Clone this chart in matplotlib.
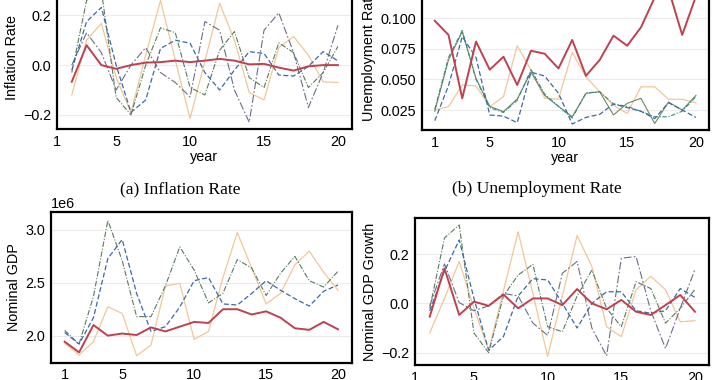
import matplotlib
matplotlib.use('Agg')
from matplotlib import pyplot as plt
from matplotlib.ticker import FixedLocator

# ── data ──────────────────────────────────────────────────────────────────────
years_full = list(range(1, 21))
years_growth = list(range(2, 21))

infl_red = [-0.067, 0.08, 0.0, -0.015, 0.0, 0.01, 0.012, 0.018, 0.012, 0.018,
            0.025, 0.018, 0.003, 0.005, -0.01, -0.022, -0.005, 0.0, 0.0]
infl_tan = [-0.12, 0.10, 0.168, -0.05, -0.19, 0.04, 0.26, 0.02, -0.215, 0.016,
            0.248, 0.1, -0.11, -0.14, 0.07, 0.115, 0.04, -0.067, -0.07]
infl_blue = [-0.02, 0.175, 0.232, 0.0, -0.19, -0.14, 0.067, 0.1, 0.088, -0.03,
             -0.1, -0.02, 0.054, 0.047, -0.04, -0.044, -0.005, 0.054, 0.017]
infl_olive = [-0.03, 0.26, 0.3, -0.13, -0.2, 0.0, 0.15, 0.13, -0.09, -0.12,
              0.06, 0.135, -0.05, -0.09, 0.09, 0.05, -0.09, -0.03, 0.075]
infl_grey = [0.0, 0.13, 0.05, -0.1, 0.0, 0.07, -0.03, -0.07, -0.128, 0.175,
             0.14, -0.1, -0.23, 0.14, 0.21, 0.05, -0.17, -0.03, 0.16]

unemp_red = [0.098, 0.0864, 0.0346, 0.081, 0.058, 0.0686, 0.0455, 0.0735, 0.071, 0.059,
             0.0823, 0.053, 0.066, 0.0858, 0.0776, 0.0926, 0.117, 0.124, 0.0864, 0.118]
unemp_tan = [0.025, 0.0278, 0.0455, 0.0447, 0.0278, 0.036, 0.0776, 0.0577, 0.0346, 0.0338,
             0.0722, 0.052, 0.04, 0.029, 0.0223, 0.044, 0.044, 0.0338, 0.0338, 0.031]
unemp_olive = [0.024, 0.066, 0.089, 0.051, 0.028, 0.0237, 0.034, 0.056, 0.037, 0.028,
               0.0196, 0.0386, 0.04, 0.021, 0.0305, 0.0346, 0.014, 0.0316, 0.025, 0.037]
unemp_blue = [0.0163, 0.045, 0.085, 0.068, 0.021, 0.02, 0.0147, 0.056, 0.0528, 0.0387,
              0.0136, 0.019, 0.0215, 0.03, 0.027, 0.024, 0.018, 0.031, 0.025, 0.019]
unemp_teal = [0.0256, 0.068, 0.09, 0.05, 0.027, 0.023, 0.033, 0.058, 0.038, 0.028,
              0.0185, 0.039, 0.04, 0.03, 0.028, 0.024, 0.0195, 0.0195, 0.024, 0.036]

gdp_red = [1.943, 1.842, 2.10, 2.0, 2.02, 2.006, 2.078, 2.04, 2.085, 2.13,
           2.12, 2.25, 2.25, 2.2, 2.23, 2.17, 2.07, 2.055, 2.13, 2.06]
gdp_tan = [1.927, 1.817, 1.943, 2.274, 2.21, 1.81, 1.91, 2.47, 2.495, 1.965,
           2.04, 2.55, 2.975, 2.64, 2.30, 2.40, 2.67, 2.80, 2.6, 2.43]
gdp_green = [2.05, 1.92, 2.37, 3.09, 2.71, 2.18, 2.18, 2.47, 2.84, 2.62,
             2.31, 2.40, 2.72, 2.64, 2.38, 2.59, 2.75, 2.52, 2.46, 2.61]
gdp_blue = [2.03, 1.92, 2.17, 2.73, 2.91, 2.40, 2.04, 2.085, 2.27, 2.52,
            2.55, 2.30, 2.29, 2.40, 2.52, 2.43, 2.35, 2.28, 2.42, 2.48]

growth_red = [-0.054, 0.142, -0.047, 0.007, -0.01, 0.036, -0.02, 0.02, 0.02, -0.007,
              0.058, 0.0, -0.024, 0.014, -0.034, -0.047, -0.007, 0.034, -0.034]
growth_tan = [-0.12, 0.02, 0.17, -0.02, -0.19, 0.05, 0.29, 0.04, -0.215, 0.03,
              0.275, 0.15, -0.095, -0.135, 0.055, 0.11, 0.055, -0.075, -0.07]
growth_blue = [-0.03, 0.13, 0.257, 0.02, -0.19, -0.135, 0.03, 0.1, 0.095, 0.0,
               -0.1, 0.0, 0.047, 0.047, -0.03, -0.04, -0.03, 0.06, 0.024]
growth_olive = [-0.02, 0.265, 0.318, -0.12, -0.2, 0.03, 0.115, 0.158, -0.095, -0.115,
                0.03, 0.135, -0.02, -0.095, 0.088, 0.06, -0.08, -0.02, 0.057]
growth_grey = [-0.01, 0.16, 0.003, -0.03, -0.01, 0.04, 0.03, -0.08, -0.13, 0.122,
               0.17, -0.1, -0.213, 0.183, 0.19, -0.03, -0.183, -0.02, 0.138]

xtick_vals = [1, 5, 10, 15, 20]

# ── styles ────────────────────────────────────────────────────────────────────
RED = dict(color="#be4150", lw=1.4, ls="-", zorder=5)
TAN = dict(color="#f0c79a", lw=0.9, ls="-")
BLUE = dict(color="#3b6aa0", lw=0.9, ls=(0, (4, 2)))
OLIVE = dict(color="#5a7a5e", lw=0.8, ls=(0, (5, 1.5, 1, 1.5)))
GREY = dict(color="#6c6c86", lw=0.8, ls=(0, (7, 2, 1.5, 2)))
TEAL = dict(color="#3a8a80", lw=0.8, ls=(0, (4, 1.5, 1, 1.5)))
OLIVE_SOLID = dict(color="#6f8866", lw=0.8, ls="-")

FS = 10.4
plt.rcParams['font.family'] = ['Liberation Sans', 'DejaVu Sans']
plt.rcParams['axes.unicode_minus'] = True

fig = plt.figure(figsize=(7.2, 3.8), dpi=100)
W, H = 720.0, 380.0


def add_ax(left, right, top, bottom):
    return fig.add_axes([left / W, 1 - bottom / H, (right - left) / W, (bottom - top) / H])


def style(ax, xlim, ylim, yticks, ylabel, xlabel=None):
    ax.set_xlim(*xlim)
    ax.set_ylim(*ylim)
    ax.xaxis.set_major_locator(FixedLocator(xtick_vals))
    ax.yaxis.set_major_locator(FixedLocator(yticks))
    ax.tick_params(length=0, labelsize=FS, pad=4, colors="black")
    ax.grid(axis="y", color="#ececec", lw=0.8)
    ax.set_axisbelow(True)
    for s in ax.spines.values():
        s.set_linewidth(1.6)
        s.set_color("black")
    ax.set_ylabel(ylabel, fontsize=FS, labelpad=3)
    if xlabel:
        ax.set_xlabel(xlabel, fontsize=FS, labelpad=1)


def minus_fmt(v, p):
    return f"{v:.1f}".replace("-", "\u2212")


# (a) inflation
ax1 = add_ax(57, 352, -14.5, 129.3)
for ys, st in [(infl_tan, TAN), (infl_grey, GREY), (infl_olive, OLIVE), (infl_blue, BLUE), (infl_red, RED)]:
    ax1.plot(years_growth, ys, **st)
style(ax1, (1.0, 20.95), (-0.258, 0.32), [-0.2, 0.0, 0.2], "Inflation Rate", "year")
ax1.yaxis.set_major_formatter(plt.FuncFormatter(minus_fmt))

# (b) unemployment
ax2 = add_ax(421.7, 709, -18.4, 130)
for ys, st in [(unemp_tan, TAN), (unemp_olive, OLIVE_SOLID), (unemp_teal, TEAL), (unemp_blue, BLUE), (unemp_red, RED)]:
    ax2.plot(years_full, ys, **st)
style(ax2, (0.05, 20.95), (0.0087, 0.13), [0.025, 0.05, 0.075, 0.1], "Unemployment Rate", "year")
ax2.yaxis.set_major_formatter(plt.FuncFormatter(lambda v, p: f"{v:.3f}"))

# nominal GDP
ax3 = add_ax(51, 351.7, 211.7, 362.7)
for ys, st in [(gdp_tan, TAN), (gdp_green, OLIVE), (gdp_blue, BLUE), (gdp_red, RED)]:
    ax3.plot(years_full, [v * 1e6 for v in ys], **st)
style(ax3, (0.05, 20.95), (1.744e6, 3.173e6), [2.0e6, 2.5e6, 3.0e6], "Nominal GDP")
ax3.ticklabel_format(axis="y", style="sci", scilimits=(0, 0))
ax3.yaxis.get_offset_text().set_fontsize(FS)

# nominal GDP growth
ax4 = add_ax(415, 709, 218.3, 365)
for ys, st in [(growth_tan, TAN), (growth_grey, GREY), (growth_olive, OLIVE), (growth_blue, BLUE), (growth_red, RED)]:
    ax4.plot(years_growth, ys, **st)
style(ax4, (1.0, 20.95), (-0.25, 0.345), [-0.2, 0.0, 0.2], "Nominal GDP Growth")
ax4.yaxis.set_major_formatter(plt.FuncFormatter(minus_fmt))

# captions
serif = ["Liberation Serif", "DejaVu Serif"]
fig.text(180 / W, 1 - 189 / H, "(a) Inflation Rate", family=serif, fontsize=12.6, ha="center", va="center")
fig.text(537 / W, 1 - 189 / H, "(b) Unemployment Rate", family=serif, fontsize=12.6, ha="center", va="center")

fig.savefig("out.png", dpi=100, facecolor="white")
